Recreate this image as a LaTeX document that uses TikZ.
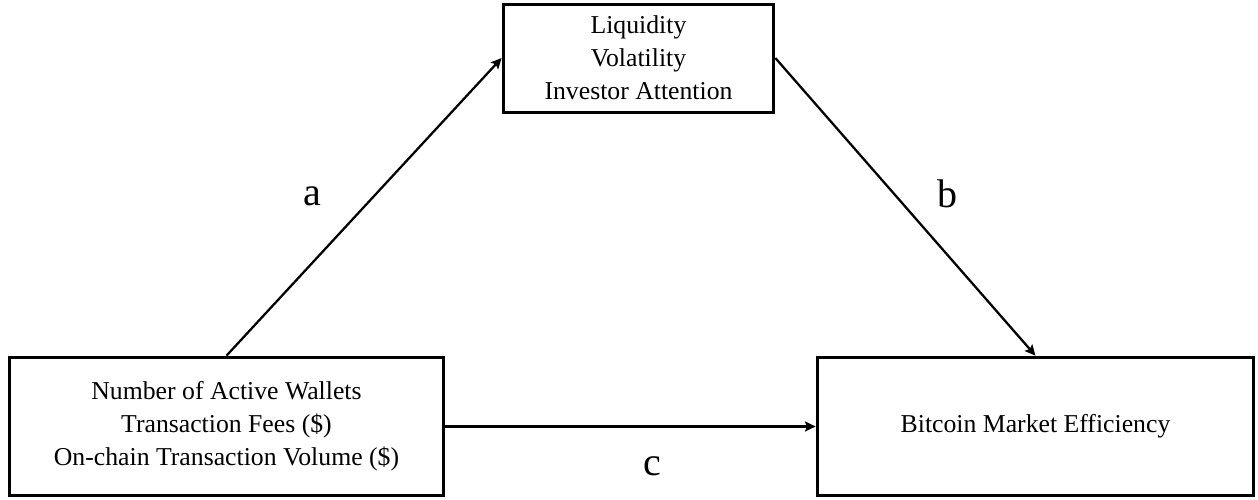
\documentclass[tikz,border=0pt]{standalone}
\usepackage{fontspec}
\setmainfont{Liberation Serif}
\usetikzlibrary{arrows.meta, positioning}

\begin{document}
\begin{tikzpicture}[x=0.75pt, y=-0.75pt,
    box/.style={draw, line width=2.25pt, align=center, inner sep=0pt,
                font=\fontsize{19.3}{24.75}\selectfont},
    link/.style={-{Stealth[length=8pt, width=7.5pt, inset=1.5pt]}, line width=1.7pt},
    lbl/.style={font=\fontsize{30}{30}\selectfont}]
  \useasboundingbox (0,0) rectangle (1258,500);

  \path (638.5, 58)    node[box, minimum width=203pt, minimum height=81pt]     (med)
          {Liquidity\\Volatility\\Investor Attention}
        (226.5, 426.5) node[box, minimum width=326pt, minimum height=104pt]    (onchain)
          {Number of Active Wallets\\Transaction Fees (\$)\\On-chain Transaction Volume (\$)}
        (1035.5,426.5) node[box, minimum width=327.5pt, minimum height=104pt]  (eff)
          {Bitcoin Market Efficiency};

  \draw[link] (onchain.north) -- (med.west);
  \draw[link] (med.east)      -- (eff.north);
  \draw[link] (onchain.east)  -- (eff.west);

  \foreach \pos/\name/\txt in {{(312,196)}/la/a, {(947,194)}/lb/b, {(652,466)}/lc/c}
    \node[lbl] (\name) at \pos {\txt};

\end{tikzpicture}
\end{document}
